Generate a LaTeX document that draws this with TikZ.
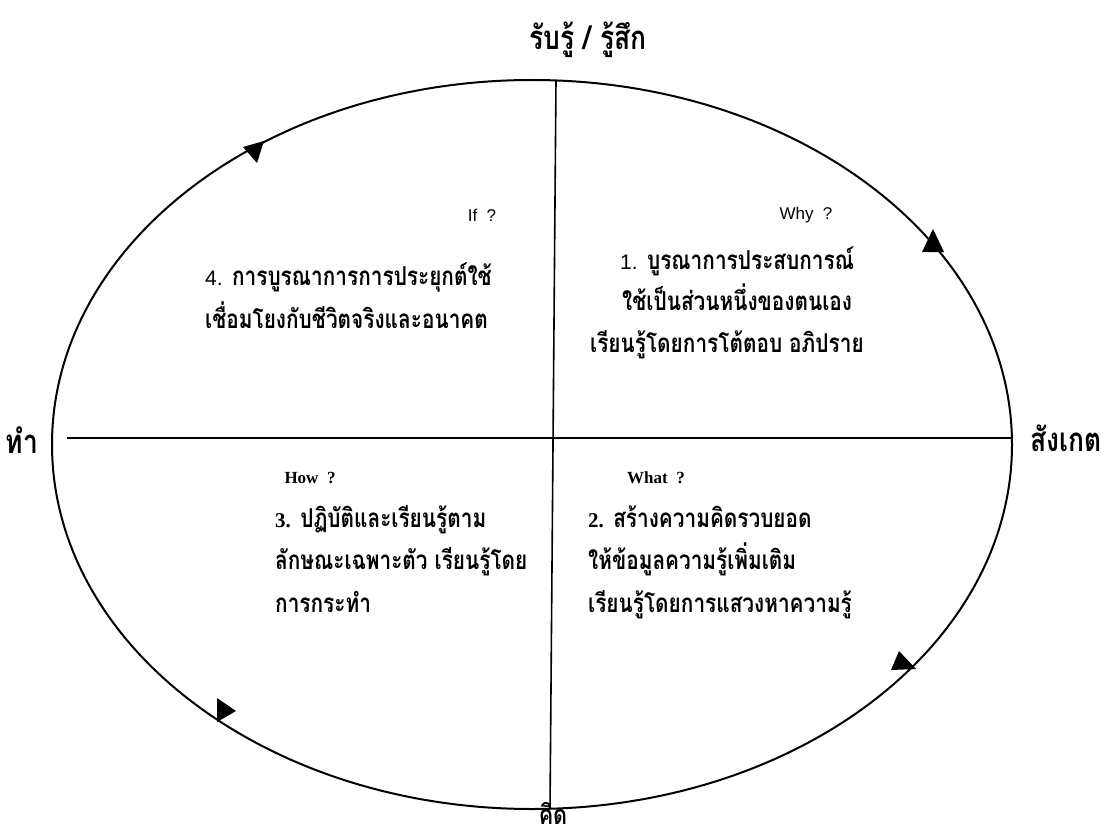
\documentclass[tikz,border=0pt]{standalone}
\usepackage{fontspec}
\newfontfamily\thai[Script=Thai,FakeStretch=0.8]{Loma}
\setmainfont{Liberation Serif}
\setsansfont{Liberation Sans}
\begin{document}
\begin{tikzpicture}[x=1pt,y=-1pt,
  thaitxt/.style={font=\thai\bfseries\fontsize{26}{30}\selectfont, inner sep=0pt, anchor=base west},
  axislabel/.style={font=\thai\bfseries\fontsize{33}{36}\selectfont, inner sep=0pt},
  qsans/.style={font=\sffamily\fontsize{17}{20}\selectfont, inner sep=0pt},
  qserif/.style={font=\rmfamily\bfseries\fontsize{17}{20}\selectfont, inner sep=0pt},
  curve/.style={line width=2pt},
  axis/.style={line width=1.6pt},
  tip/.style={fill=black}]
\useasboundingbox (0,0) rectangle (1108,837);
% ellipse
\draw[curve] (532,444.5) ellipse [x radius=480, y radius=364.5];
% axes
\coordinate (vt) at (556,80);
\coordinate (vb) at (550,809);
\coordinate (hl) at (67,438);
\coordinate (hr) at (1012,438);
\draw[axis] (vt) -- (vb);
\draw[axis] (hl) -- (hr);
% arrow heads
\fill[tip] (243,147) -- (264,141) -- (257,163) -- cycle;
\fill[tip] (933,229) -- (922,252) -- (944,252) -- cycle;
\fill[tip] (899,651) -- (891,670) -- (916,669) -- cycle;
\fill[tip] (217,698) -- (217,722) -- (236,711) -- cycle;
% axis labels
\node[axislabel] (top) at (588,40) {รับรู้ / รู้สึก};
\node[axislabel] (left) at (22,440) {ทำ};
\node[axislabel] (right) at (1066,438) {สังเกต};
\node[axislabel, font=\thai\bfseries\fontsize{27}{30}\selectfont, anchor=base] (bottom) at (553,824) {คิด};
% questions
\node[qsans] (qif) at (482,215) {If\ \ ?};
\node[qsans] (qwhy) at (806,215) {Why\ \ ?};
\node[qserif] (qhow) at (310,478) {How\ \ ?};
\node[qserif] (qwhat) at (656,478) {What\ \ ?};
% quadrant 1
\node[thaitxt] (a1) at (620,269) {{\sffamily\mdseries\fontsize{21}{24}\selectfont 1.} บูรณาการประสบการณ์};
\node[thaitxt] (a2) at (622,310) {ใช้เป็นส่วนหนึ่งของตนเอง};
\node[thaitxt] (a3) at (590,352) {เรียนรู้โดยการโต้ตอบ อภิปราย};
% quadrant 4
\node[thaitxt] (d1) at (205,285) {{\sffamily\mdseries\fontsize{21}{24}\selectfont 4.} การบูรณาการการประยุกต์ใช้};
\node[thaitxt] (d2) at (205,328) {เชื่อมโยงกับชีวิตจริงและอนาคต};
% quadrant 3
\node[thaitxt] (c1) at (275,527) {{\rmfamily\fontsize{21}{24}\selectfont 3.} ปฏิบัติและเรียนรู้ตาม};
\node[thaitxt] (c2) at (275,569) {ลักษณะเฉพาะตัว เรียนรู้โดย};
\node[thaitxt] (c3) at (275,612) {การกระทำ};
% quadrant 2
\node[thaitxt] (b1) at (588,527) {{\rmfamily\fontsize{21}{24}\selectfont 2.} สร้างความคิดรวบยอด};
\node[thaitxt] (b2) at (588,569) {ให้ข้อมูลความรู้เพิ่มเติม};
\node[thaitxt] (b3) at (588,612) {เรียนรู้โดยการแสวงหาความรู้};
\end{tikzpicture}
\end{document}
